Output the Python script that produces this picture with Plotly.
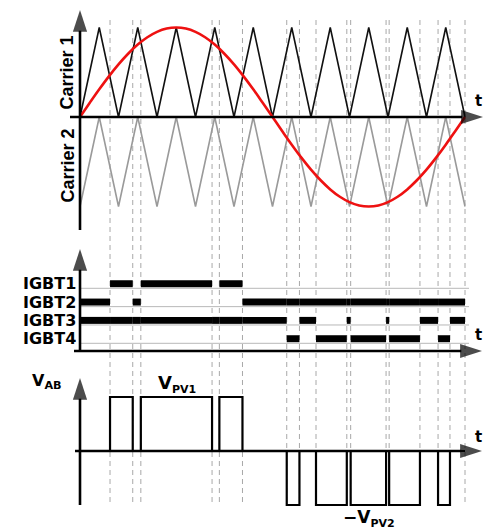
import plotly.graph_objects as go

# ---- waveform data (time in carrier periods, one fundamental cycle = 10 periods) ----
carrier_t = [0, 0.5, 1, 1.5, 2, 2.5, 3, 3.5, 4, 4.5, 5, 5.5, 6, 6.5, 7, 7.5, 8, 8.5, 9, 9.5, 10]
carrier1 = [0, 1, 0, 1, 0, 1, 0, 1, 0, 1, 0, 1, 0, 1, 0, 1, 0, 1, 0, 1, 0]
carrier2 = [-1, 0, -1, 0, -1, 0, -1, 0, -1, 0, -1, 0, -1, 0, -1, 0, -1, 0, -1, 0, -1]

ref_t = [i * 0.25 for i in range(41)]
ref_v = [0, 0.156, 0.309, 0.454, 0.588, 0.707, 0.809, 0.891, 0.951, 0.988, 1,
         0.988, 0.951, 0.891, 0.809, 0.707, 0.588, 0.454, 0.309, 0.156, 0,
         -0.156, -0.309, -0.454, -0.588, -0.707, -0.809, -0.891, -0.951, -0.988, -1,
         -0.988, -0.951, -0.891, -0.809, -0.707, -0.588, -0.454, -0.309, -0.156, 0]

# switching instants (interval edges) and gate states per interval
edges = [0, 0.78, 1.37, 1.58, 3.43, 3.62, 4.22, 5.37, 5.70, 6.13, 6.93, 7.03,
         7.95, 8.03, 8.83, 9.30, 9.61, 10]
igbt1 = [0, 1, 0, 1, 0, 1, 0, 0, 0, 0, 0, 0, 0, 0, 0, 0, 0]
igbt2 = [1, 0, 1, 0, 0, 0, 1, 1, 1, 1, 1, 1, 1, 1, 1, 1, 1]
igbt3 = [1, 1, 1, 1, 1, 1, 1, 0, 1, 0, 1, 0, 1, 0, 1, 0, 1]
igbt4 = [0, 0, 0, 0, 0, 0, 0, 1, 0, 1, 0, 1, 0, 1, 0, 1, 0]
igbt_names = ["IGBT1", "IGBT2", "IGBT3", "IGBT4"]
vab = [0, 1, 0, 1, 0, 1, 0, -1, 0, -1, 0, -1, 0, -1, 0, -1, 0]

# ---- layout geometry (pixels) ----
W, H = 484, 529
X0, PXU = 80.0, 38.5          # pixel of t=0, pixels per carrier period


def px_x(p):
    return (p - X0) / PXU


def paper_x(p):
    return p / W


def paper_y(p):
    return 1 - p / H


# panels: zero pixel, pixels per unit, top pixel, bottom pixel
panels = {
    "y": (117.0, 89.5, 0, 234),
    "y2": (343.3, 18.33, 234, 362),
    "y3": (451.0, 54.0, 362, 529),
}


def val(axis, p):
    z, s, _, _ = panels[axis]
    return (z - p) / s


fig = go.Figure()

# carriers and reference
fig.add_trace(go.Scatter(x=carrier_t, y=carrier2, mode="lines",
                         line=dict(color="#9a9a9a", width=1.6), yaxis="y"))
fig.add_trace(go.Scatter(x=carrier_t, y=carrier1, mode="lines",
                         line=dict(color="#111111", width=1.6), yaxis="y"))
fig.add_trace(go.Scatter(x=ref_t, y=ref_v, mode="lines", line_shape="spline",
                         line=dict(color="#ee1111", width=2.6), yaxis="y"))

# gate signals
for row, states in zip([3, 2, 1, 0], [igbt1, igbt2, igbt3, igbt4]):
    starts = [edges[i] for i, s in enumerate(states) if s]
    widths = [edges[i + 1] - edges[i] for i, s in enumerate(states) if s]
    fig.add_trace(go.Bar(y=[row] * len(starts), x=widths, base=starts,
                         orientation="h", width=0.38, offset=0.06,
                         marker=dict(color="black", line=dict(width=0)),
                         yaxis="y2"))

# output voltage
fig.add_trace(go.Scatter(x=edges, y=vab + [vab[-1]], mode="lines", line_shape="hv",
                         line=dict(color="black", width=2.2), yaxis="y3"))


def axis_arrow(axis, x_tail, y_tail, x_head, y_head):
    fig.add_trace(go.Scatter(
        x=[x_tail, x_head], y=[y_tail, y_head], mode="lines+markers",
        line=dict(color="black", width=2.6),
        marker=dict(symbol=["circle", "arrow"], size=[0, 23], angleref="previous",
                    color="black", line=dict(width=0)),
        yaxis=axis, hoverinfo="skip", cliponaxis=False))


# axes with arrows
axis_arrow("y", 0, val("y", 230), 0, val("y", 10))
axis_arrow("y", px_x(70), 0, px_x(483), 0)
axis_arrow("y2", 0, val("y2", 351), 0, val("y2", 249))
axis_arrow("y2", px_x(74), val("y2", 351), px_x(482), val("y2", 351))
axis_arrow("y3", 0, val("y3", 505), 0, val("y3", 378))
axis_arrow("y3", px_x(75), 0, px_x(482), 0)

shapes = []
# switching instant guides
for t in edges[1:]:
    shapes.append(dict(type="line", xref="x", yref="paper", x0=t, x1=t,
                       y0=paper_y(502), y1=paper_y(18), layer="below",
                       line=dict(color="#a8a8a8", width=1, dash="5px,4px")))
# gate baselines
for row in [3, 2, 1, 0]:
    shapes.append(dict(type="line", xref="x", yref="y2", x0=0, x1=px_x(469),
                       y0=row, y1=row, layer="below",
                       line=dict(color="#b8b8b8", width=1)))

annotations = []
for txt, cy in [("Carrier 1", 72.5), ("Carrier 2", 165.5)]:
    annotations.append(dict(xref="paper", yref="paper", x=paper_x(67), y=paper_y(cy),
                            text="<b>%s</b>" % txt, showarrow=False, textangle=-90,
                            xanchor="center", yanchor="middle",
                            font=dict(family="Liberation Sans", size=18, color="black")))
for row, name in zip([3, 2, 1, 0], igbt_names):
    annotations.append(dict(xref="paper", yref="y2", x=paper_x(78), y=row + 0.25,
                            text="<b>%s</b>" % name, showarrow=False,
                            xanchor="right", yanchor="middle",
                            font=dict(family="DejaVu Sans", size=16, color="black")))
for cy in [101, 335, 437]:
    annotations.append(dict(xref="paper", yref="paper", x=1.0, y=paper_y(cy),
                            text="<b>t</b>", showarrow=False, xanchor="right",
                            yanchor="middle",
                            font=dict(family="DejaVu Sans", size=15, color="black")))
annotations.append(dict(xref="paper", yref="paper", x=paper_x(47), y=paper_y(381),
                        text="<b>V<sub>AB</sub></b>", showarrow=False,
                        xanchor="center", yanchor="middle",
                        font=dict(family="DejaVu Sans", size=16, color="black")))
annotations.append(dict(xref="paper", yref="paper", x=paper_x(176.5), y=paper_y(384),
                        text="<b>V<sub><span style='font-size:11px'>PV1</span></sub></b>",
                        showarrow=False, xanchor="center", yanchor="middle",
                        font=dict(family="DejaVu Sans", size=18, color="black")))
annotations.append(dict(xref="paper", yref="paper", x=paper_x(369), y=paper_y(518),
                        text="<b>\u2212V<sub><span style='font-size:11px'>PV2</span></sub></b>",
                        showarrow=False, xanchor="center", yanchor="middle",
                        font=dict(family="DejaVu Sans", size=17, color="black")))

axis_off = dict(visible=False, showgrid=False, zeroline=False, fixedrange=True)
layout_axes = {}
for name, (z, s, top, bot) in panels.items():
    key = "yaxis" if name == "y" else "yaxis" + name[1:]
    layout_axes[key] = dict(axis_off, domain=[paper_y(bot), paper_y(top)],
                            range=[(z - bot) / s, (z - top) / s], anchor="x")

fig.update_layout(
    width=W, height=H,
    margin=dict(l=0, r=0, t=0, b=0),
    paper_bgcolor="white", plot_bgcolor="rgba(0,0,0,0)",
    showlegend=False, barmode="overlay",
    xaxis=dict(axis_off, range=[-X0 / PXU, (W - X0) / PXU], domain=[0, 1]),
    shapes=shapes, annotations=annotations,
    **layout_axes,
)

fig.write_html("out.html")
